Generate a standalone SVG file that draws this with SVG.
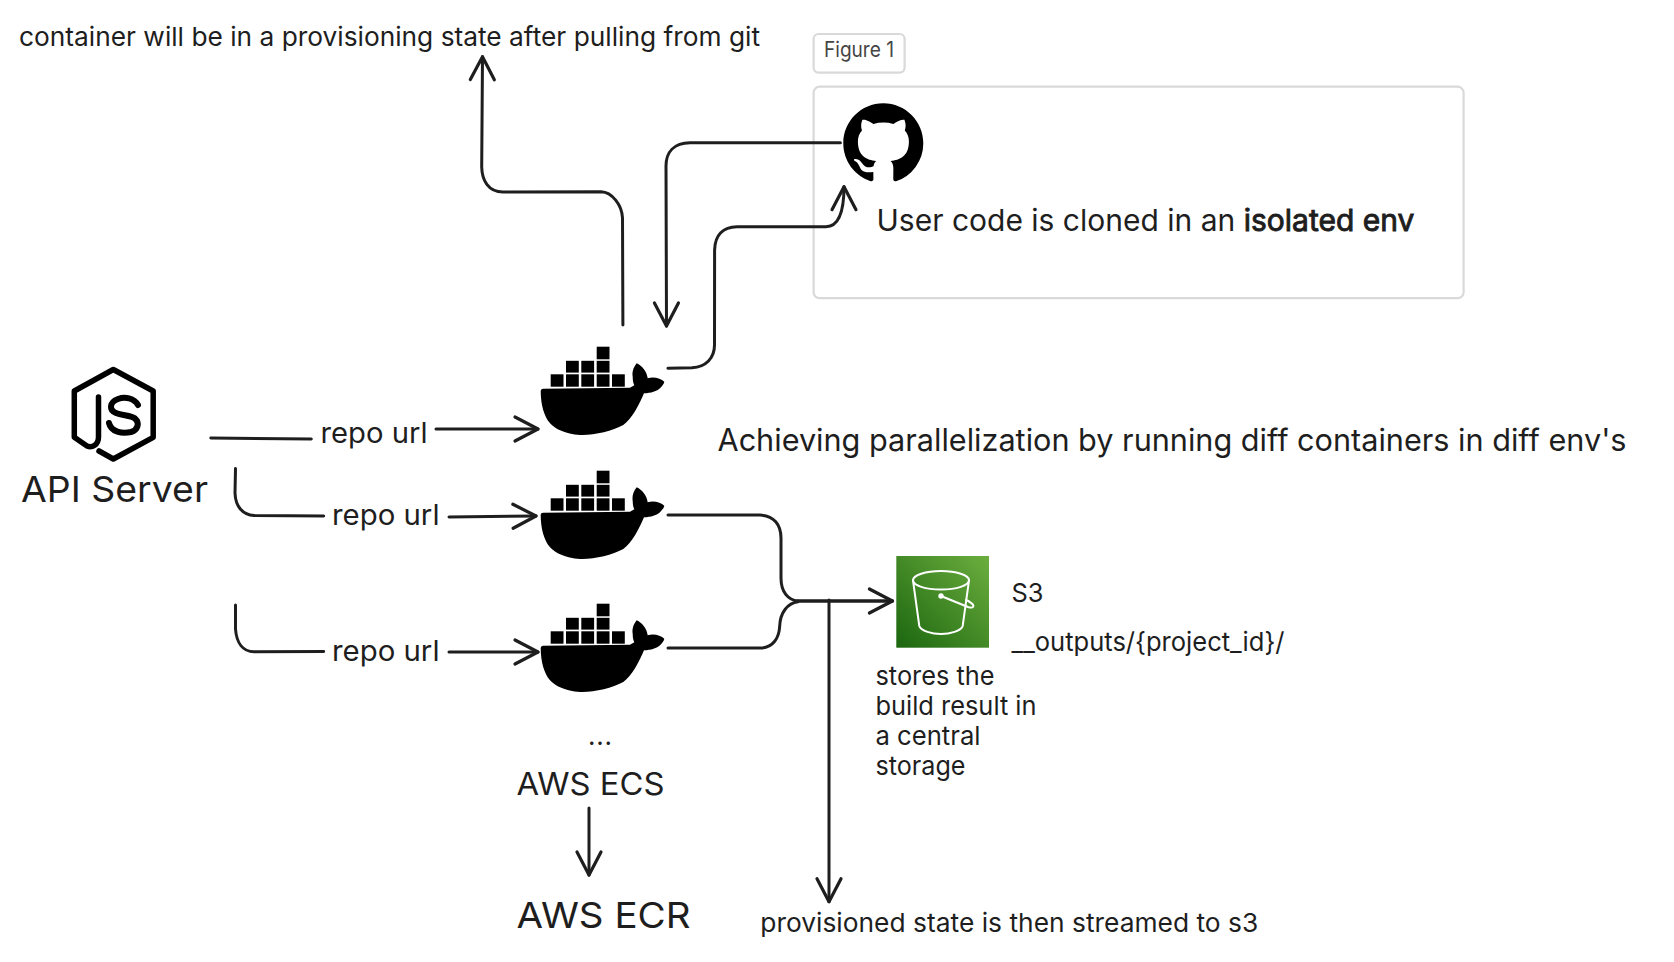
<svg xmlns="http://www.w3.org/2000/svg" width="1674" height="962" viewBox="0 0 1674 962">
<style>
text{font-family:Inter,"Liberation Sans",sans-serif;fill:#1e1e1e}
.c{fill:none;stroke:#1e1e1e;stroke-width:3;stroke-linecap:round;stroke-linejoin:round}
.a{marker-end:url(#head)}
.box{fill:#fff;stroke:#d9d9dc;stroke-width:2.2}
.lg{font-size:36px}.md{font-size:31px}.url{font-size:28px}.sm{font-size:26px}
</style>
<defs>
<marker id="head" markerUnits="userSpaceOnUse" markerWidth="40" markerHeight="40" refX="30" refY="20" orient="auto" overflow="visible">
<path d="M7,8 L30,20 L7,32" fill="none" stroke="#1e1e1e" stroke-width="3.2" stroke-linecap="round" stroke-linejoin="round"/>
</marker>
<linearGradient id="s3g" x1="0" y1="1" x2="1" y2="0"><stop offset="0" stop-color="#1b660f"/><stop offset="1" stop-color="#6cae3e"/></linearGradient>
<g id="whale" fill="#000">
<rect x="596.7" y="346.7" width="12.8" height="12.6"/>
<rect x="566" y="360.8" width="12.8" height="11.8"/><rect x="581.3" y="360.8" width="12.8" height="11.8"/><rect x="596.7" y="360.8" width="12.8" height="11.8"/>
<rect x="550.7" y="374.3" width="12.8" height="12.4"/><rect x="566" y="374.3" width="12.8" height="12.4"/><rect x="581.3" y="374.3" width="12.8" height="12.4"/><rect x="596.7" y="374.3" width="12.8" height="12.4"/><rect x="612" y="374.3" width="12.8" height="12.4"/>
<path d="M543,388.8 Q540.600,389 540.700,391 C540.800,405 544,416 550,423.300 C555,429 565,434 580,435 C594,435.500 612,431 623.300,425 C632,419 639,405 644,393.300 C651,393.300 657,391 660,388.300 C662,386 664,384 664.300,381.700 C661,378.500 654,376.500 647.700,378.300 C647,372 642,365.500 636.700,363.300 C633,368 632,372 632.700,377 C632.800,381 633.200,383 634.300,385.200 L630,387.700 Z"/>
</g>
</defs>
<rect width="1674" height="962" fill="#fff"/>

<g id="figure-label">
<rect class="box" x="813.6" y="34" width="91" height="38.600" rx="5"/>
<text x="824" y="57" font-size="21" textLength="70" lengthAdjust="spacingAndGlyphs" style="fill:#444">Figure 1</text>
</g>
<g id="figure-box">
<rect class="box" x="813.6" y="86.700" width="650" height="211.500" rx="6"/>
</g>

<g id="connectors">
<path class="c" d="M210.800,438 L311.300,439"/>
<path class="c a" d="M436,429 L538,429"/>
<path class="c" d="M235.500,468.600 L235,493 C235.500,507 243,515 254,515.500 L323.700,516"/>
<path class="c a" d="M449,517 L536,516"/>
<path class="c" d="M235.500,605 L235.500,629 C236.500,643 243,651.500 254,651.800 L323.700,651.500"/>
<path class="c a" d="M449,652 L538,652"/>
<path class="c a" d="M622.900,325 L622.500,218 C622,205 612,192 601,191.700 L503,192 C488,192 482,180 481.700,167 L482.500,56.700"/>
<path class="c a" d="M840.400,142.700 L690,142.700 C674,143 666,152 666,166 L666.500,326"/>
<path class="c a" d="M667.900,368.300 L692,367.700 C706,367 714.500,358 714.500,345 L714.600,250 C715,235 723,227 737,226.700 L826,226.700 C838,226.500 844,213 844,186.700"/>
<path class="c" d="M668,515 L760,515 C774,515.500 781,525 781,538 L781,578 C781,592 788,600 798,601"/>
<path class="c" d="M668,648 L762,648 C773,647 779,638 779.600,627 C780,612 788,603 798,601.700"/>
<path class="c a" style="stroke-width:3.400" d="M798,601 L892.400,601"/>
<path class="c a" d="M829,600 L829,901.700"/>
<path class="c a" d="M589,808 L589,875"/>
</g>

<g id="note-top"><text class="sm" x="19" y="46" textLength="741" lengthAdjust="spacingAndGlyphs">container will be in a provisioning state after pulling from git</text></g>

<g id="github">
<path transform="translate(843.300,103.300) scale(5)" fill="#000" d="M8 0C3.58 0 0 3.58 0 8c0 3.54 2.29 6.53 5.47 7.59.4.07.55-.17.55-.38 0-.19-.01-.82-.01-1.490-2.010.37-2.530-.49-2.690-.94-.09-.23-.48-.94-.82-1.130-.28-.15-.68-.52-.01-.53.63-.01 1.080.58 1.230.82.72 1.210 1.870.87 2.330.66.07-.52.28-.87.51-1.070-1.780-.2-3.640-.89-3.640-3.950 0-.87.31-1.590.82-2.150-.08-.2-.36-1.020.08-2.120 0 0 .67-.21 2.200.82.64-.18 1.320-.27 2-.27.68 0 1.360.09 2 .27 1.530-1.040 2.200-.82 2.200-.82.44 1.100.16 1.920.08 2.120.51.56.82 1.270.82 2.150 0 3.070-1.870 3.750-3.650 3.950.29.25.54.73.54 1.480 0 1.070-.01 1.930-.01 2.200 0 .21.15.46.55.38A8.013 8.013 0 0016 8c0-4.420-3.580-8-8-8z"/>
<text x="876.500" y="231" font-size="30">User code is cloned in an <tspan stroke="#1e1e1e" stroke-width="0.9">isolated env</tspan></text>
</g>

<g id="api-server">
<path fill="none" stroke="#000" stroke-width="5.500" stroke-linejoin="round" stroke-linecap="round" d="M98.500,397 L98.500,437 C98.500,445 92,448 87,446 L74.300,437.300 L74.300,391 L113.300,369.500 L153.200,391 L153.200,437.300 L113.300,459 L99,451"/>
<path fill="none" stroke="#000" stroke-width="6" stroke-linecap="round" d="M138,405 C134,398 125,396.500 118,399 C109,402.500 109,410 116,413 C122,415.500 131,415.500 135,418.500 C140,423 138,430 131,432 C122,434 111,432 109,423"/>
<text class="lg" x="21" y="502" textLength="187" lengthAdjust="spacingAndGlyphs">API Server</text>
</g>

<g id="url-1"><text class="url" x="320.500" y="443" textLength="107" lengthAdjust="spacingAndGlyphs">repo url</text></g>
<g id="url-2"><text class="url" x="332" y="525" textLength="107.500" lengthAdjust="spacingAndGlyphs">repo url</text></g>
<g id="url-3"><text class="url" x="332" y="661" textLength="107.500" lengthAdjust="spacingAndGlyphs">repo url</text></g>

<g id="container-1"><use href="#whale"/></g>
<g id="container-2"><use href="#whale" y="124"/></g>
<g id="container-3"><use href="#whale" y="257"/></g>

<g id="parallel-note"><text class="md" x="717.500" y="451" textLength="909" lengthAdjust="spacingAndGlyphs">Achieving parallelization by running diff containers in diff env's</text></g>

<g id="s3">
<rect x="896.300" y="556" width="92.700" height="91.700" fill="url(#s3g)"/>
<g fill="none" stroke="#fff" stroke-width="2" stroke-linecap="round" stroke-linejoin="round">
<ellipse cx="941" cy="580.300" rx="28" ry="9.300"/>
<path d="M913,580.300 L919.300,626 C921,631 932,634 941,634 C950,634 961,631 962.700,626 L969,580.300"/>
<path d="M941,596 L968,607 C974,609 975,605 971,603 Q969,601 966,600"/>
</g>
<circle cx="941" cy="596" r="2.700" fill="#fff"/>
<text class="sm" x="1011.500" y="602" textLength="32" lengthAdjust="spacingAndGlyphs">S3</text>
<text class="sm" x="1011.500" y="651" textLength="273" lengthAdjust="spacingAndGlyphs">__outputs/{project_id}/</text>
<text class="sm" x="875.500" y="685" textLength="119" lengthAdjust="spacingAndGlyphs">stores the</text>
<text class="sm" x="875.500" y="715" textLength="161" lengthAdjust="spacingAndGlyphs">build result in</text>
<text class="sm" x="875.500" y="745" textLength="105" lengthAdjust="spacingAndGlyphs">a central</text>
<text class="sm" x="875.500" y="775" textLength="90" lengthAdjust="spacingAndGlyphs">storage</text>
</g>

<g id="ecs">
<text class="sm" x="588" y="745" textLength="24" lengthAdjust="spacing">...</text>
<text class="md" x="516.500" y="794.500" textLength="148" lengthAdjust="spacingAndGlyphs">AWS ECS</text>
</g>
<g id="ecr"><text class="lg" x="516.500" y="928" textLength="174" lengthAdjust="spacingAndGlyphs">AWS ECR</text></g>
<g id="note-bottom"><text class="sm" x="760.300" y="932" textLength="498" lengthAdjust="spacingAndGlyphs">provisioned state is then streamed to s3</text></g>
</svg>
